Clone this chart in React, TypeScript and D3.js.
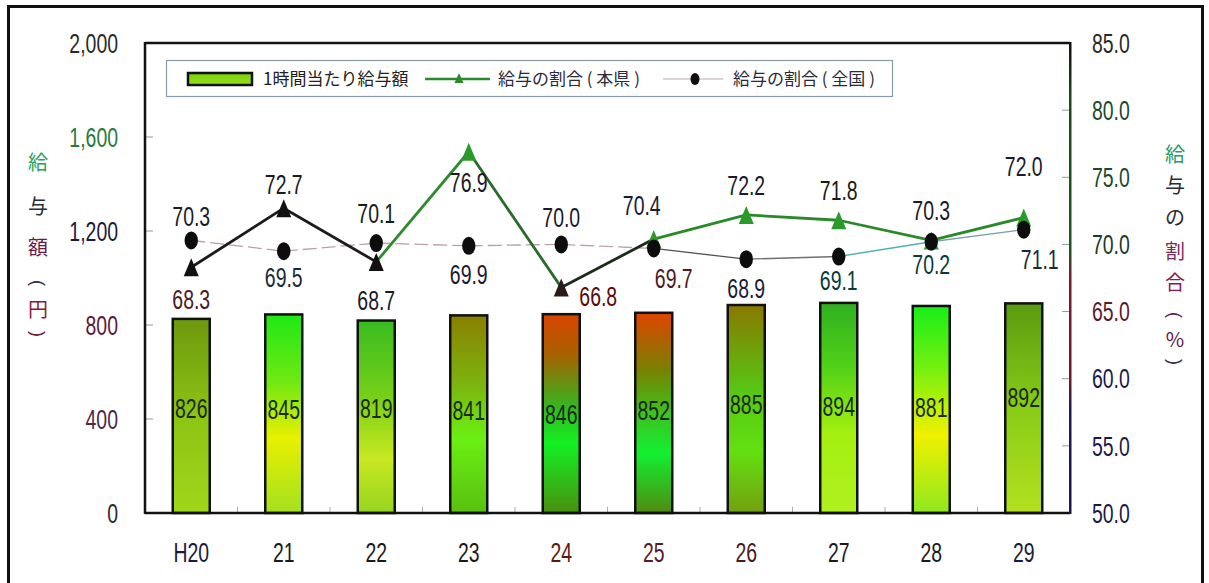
import React from "react";
import * as d3 from "d3";

// ---- data ----
const categories = ["H20", "21", "22", "23", "24", "25", "26", "27", "28", "29"];
const wages = [826, 845, 819, 841, 846, 852, 885, 894, 881, 892];
const ratioPref = [68.3, 72.7, 68.7, 76.9, 66.8, 70.4, 72.2, 71.8, 70.3, 72.0];
const ratioNation = [70.3, 69.5, 70.1, 69.9, 70.0, 69.7, 68.9, 69.1, 70.2, 71.1];
const leftTicks = [0, 400, 800, 1200, 1600, 2000];
const rightTicks = [50, 55, 60, 65, 70, 75, 80, 85];
const legendLabels = ["1時間当たり給与額", "給与の割合 ( 本県 )", "給与の割合 ( 全国 )"];
const leftTitle = ["給", "与", "額", "(", "円", ")"];
const rightTitle = ["給", "与", "の", "割", "合", "(", "%", ")"];

// ---- styles ----
const barGradients: [number, string][][] = [
  [[0, "#6c980e"], [0.5, "#8cc414"], [1, "#9ed81a"]],
  [[0, "#1ee818"], [0.35, "#74e812"], [0.62, "#e8f000"], [1, "#a4e020"]],
  [[0, "#38bc20"], [0.4, "#78d018"], [0.72, "#c8e820"], [1, "#96d420"]],
  [[0, "#8a8000"], [0.35, "#7cb410"], [0.62, "#6af012"], [1, "#58c010"]],
  [[0, "#d84400"], [0.2, "#a86000"], [0.45, "#3cb020"], [0.65, "#12f022"], [1, "#4a9010"]],
  [[0, "#e04400"], [0.28, "#7a8000"], [0.5, "#40c020"], [0.7, "#12f030"], [1, "#508a10"]],
  [[0, "#8a7800"], [0.4, "#58c414"], [0.7, "#62e010"], [1, "#74a010"]],
  [[0, "#30b020"], [0.3, "#50d018"], [0.62, "#a4f010"], [1, "#b0f020"]],
  [[0, "#18ee18"], [0.3, "#74f010"], [0.62, "#f0f000"], [1, "#90e820"]],
  [[0, "#5a9a10"], [0.5, "#88cc18"], [1, "#b4e020"]],
];
const prefSegColors = ["#1a1a1a", "#1c1c1c", "#2f8a2f", "#2a6a2a", "#1e2a1e", "#2a8a2a", "#2a8a2a", "#2a8a2a", "#2a8a2a"];
const prefMarkerColors = ["#111", "#111", "#111", "#2a9a2a", "#2a1a1a", "#2a9a2a", "#2a9a2a", "#2a9a2a", "#2a9a2a", "#2a9a2a"];
const nationSegColors = ["#b8a0a8", "#b8a0a8", "#b8a0a8", "#b8a0a8", "#c0a0a8", "#505050", "#707070", "#50b0b0", "#7aa0b0"];
const prefLabelOffsets = [[0, 32], [0, -24], [0, 38], [0, 31], [37, 9], [-12, -34], [0, -30], [0, -30], [0, -30], [0, -51]];
const nationLabelOffsets = [[0, -24], [0, 26], [0, -30], [0, 29], [0, -27], [20, 30], [0, 29], [0, 24], [0, 23], [16, 30]];
const prefLabelColors = ["#4a1a2a", "#1a1a1a", "#1a1a2a", "#1a1a2a", "#5a0a0a", "#1a1a3a", "#1a1a2a", "#1a1a1a", "#1a1a2a", "#1a1a2a"];
const nationLabelColors = ["#1a1a2a", "#1a2a3a", "#1a1a1a", "#1a1a2a", "#1a1a2a", "#4a1a2a", "#1a1a3a", "#0a3a3a", "#0a3a3a", "#1a2a3a"];
const xLabelColors = ["#1a1a3a", "#1a1a1a", "#1a1a1a", "#1a1a1a", "#5a1a1a", "#5a1a2a", "#4a1a1a", "#1a1a1a", "#1a1a1a", "#1a1a3a"];
const leftTickColors = ["#2a2a2a", "#4a2a4a", "#5a1a3a", "#1a1a3a", "#2a7a3a", "#2a2a2a"];
const rightTickColors = ["#1a1a4a", "#1a1a4a", "#1a1a4a", "#5a1a2a", "#1a3a2a", "#1a4a2a", "#1a4a2a", "#2a2a2a"];
const leftTitleColors = ["#2aa060", "#2a2a3a", "#6a1a4a", "#3a2a4a", "#8a1a3a", "#6a1a2a"];
const rightTitleColors = ["#2a9a6a", "#2a2a3a", "#2a2a2a", "#7a2a5a", "#8a1a4a", "#5a2a5a", "#5a1a4a", "#3a2a4a"];
const barLabelDy = [-8, -4, -8, -4, 1, -3, -5, -2, -2, -11];

const NUM_FONT = "'Liberation Sans', Arial, sans-serif";
const CJK_FONT = "'Noto Sans CJK JP', 'Noto Sans', sans-serif";

const W = 1209;
const H = 583;
const PL = 145, PR = 1070, PT = 43, PB = 513;

function Num({ x, cy, text, anchor = "middle", fill = "#1a1a1a", size = 27 }: any) {
  return (
    <text
      transform={`translate(${x},${cy + size * 0.36}) scale(0.72,1)`}
      textAnchor={anchor}
      fontFamily={NUM_FONT}
      fontSize={size}
      fill={fill}
    >
      {text}
    </text>
  );
}

function VChar({ x, cy, ch, fill }: any) {
  const isParen = ch === "(" || ch === ")";
  if (isParen) {
    return (
      <text
        transform={`translate(${x},${cy}) rotate(90)`}
        textAnchor="middle"
        dy="0.33em"
        fontFamily={NUM_FONT}
        fontSize={18}
        fill={fill}
      >
        {ch}
      </text>
    );
  }
  return (
    <text x={x} y={cy + 7} textAnchor="middle" fontFamily={CJK_FONT} fontSize={20} fill={fill}>
      {ch}
    </text>
  );
}

export default function App() {
  const x = d3.scaleBand<string>().domain(categories).range([PL, PR]).paddingInner(0.6).paddingOuter(0.3);
  const yL = d3.scaleLinear().domain([0, 2000]).range([PB, PT]);
  const yR = d3.scaleLinear().domain([50, 85]).range([PB, PT]);
  const cx = (i: number) => (x(categories[i]) as number) + x.bandwidth() / 2;
  const step = x.step();
  const fmt = d3.format(",");
  const fmt1 = d3.format(".1f");

  const prefPts = ratioPref.map((v, i) => [cx(i), yR(v)] as [number, number]);
  const natPts = ratioNation.map((v, i) => [cx(i), yR(v)] as [number, number]);
  const seg = d3.line();

  const tri = "M0,-9 L7.5,9 L-7.5,9 Z";

  return (
    <svg width={W} height={H} style={{ position: "absolute", left: 0, top: 0, background: "#fff" }}>
      <defs>
        {barGradients.map((stops, i) => (
          <linearGradient key={i} id={`bg${i}`} x1="0" y1="0" x2="0" y2="1">
            {stops.map(([o, c], j) => (
              <stop key={j} offset={o} stopColor={c} />
            ))}
          </linearGradient>
        ))}
        <linearGradient id="raxis" x1="0" y1="0" x2="0" y2="1">
          <stop offset="0" stopColor="#111" />
          <stop offset="0.12" stopColor="#1a4a1a" />
          <stop offset="0.44" stopColor="#1a5a1a" />
          <stop offset="0.5" stopColor="#7a1a2a" />
          <stop offset="0.72" stopColor="#6a1a2a" />
          <stop offset="0.78" stopColor="#1a1a5a" />
          <stop offset="1" stopColor="#1a1a4a" />
        </linearGradient>
        <linearGradient id="legbar" x1="0" y1="0" x2="0" y2="1">
          <stop offset="0" stopColor="#7ad010" />
          <stop offset="1" stopColor="#96e018" />
        </linearGradient>
      </defs>

      {/* outer frame */}
      <rect x={8.5} y={6.5} width={1194} height={600} fill="none" stroke="#111" strokeWidth={3} />

      {/* bars */}
      {wages.map((v, i) => (
        <rect
          key={i}
          x={x(categories[i])}
          y={yL(v)}
          width={x.bandwidth()}
          height={yL(0) - yL(v)}
          fill={`url(#bg${i})`}
          stroke="#111"
          strokeWidth={2.5}
        />
      ))}
      {wages.map((v, i) => (
        <Num key={i} x={cx(i)} cy={(yL(v) + yL(0)) / 2 + barLabelDy[i]} text={String(v)} fill="#1a2a1a" />
      ))}

      {/* inner ticks */}
      {leftTicks.slice(1, -1).map((t, i) => (
        <line key={i} x1={PL} x2={PL + 8} y1={yL(t)} y2={yL(t)} stroke="#999" strokeWidth={1} />
      ))}
      {rightTicks.slice(1, -1).map((t, i) => (
        <line key={i} x1={PR - 8} x2={PR} y1={yR(t)} y2={yR(t)} stroke="#999" strokeWidth={1} />
      ))}
      {categories.slice(1).map((c, i) => (
        <line key={i} x1={PL + (i + 1) * step} x2={PL + (i + 1) * step} y1={PB - 6} y2={PB} stroke="#aaa" strokeWidth={1} />
      ))}

      {/* axes / frame of plot */}
      <line x1={PL} x2={PR} y1={PT} y2={PT} stroke="#111" strokeWidth={2.5} />
      <line x1={PL} x2={PR} y1={PB} y2={PB} stroke="#111" strokeWidth={2.5} />
      <line x1={PL} x2={PL} y1={PT - 1} y2={PB + 1} stroke="#111" strokeWidth={2.5} />
      <rect x={PR - 1} y={PT - 1} width={2.5} height={PB - PT + 2} fill="url(#raxis)" />

      {/* national line */}
      {natPts.slice(1).map((p, i) => (
        <path
          key={i}
          d={seg([natPts[i], p]) as string}
          stroke={nationSegColors[i]}
          strokeWidth={1.3}
          strokeDasharray={i < 5 ? "14 5" : undefined}
          fill="none"
        />
      ))}
      {/* prefecture line */}
      {prefPts.slice(1).map((p, i) => (
        <path key={i} d={seg([prefPts[i], p]) as string} stroke={prefSegColors[i]} strokeWidth={2.8} fill="none" />
      ))}
      {prefPts.map((p, i) => (
        <path key={i} d={tri} transform={`translate(${p[0]},${p[1]})`} fill={prefMarkerColors[i]} />
      ))}
      {natPts.map((p, i) => (
        <ellipse key={i} cx={p[0]} cy={p[1]} rx={6.7} ry={9} fill="#0d0d0d" />
      ))}

      {/* data labels */}
      {ratioPref.map((v, i) => (
        <Num key={i} x={prefPts[i][0] + prefLabelOffsets[i][0]} cy={prefPts[i][1] + prefLabelOffsets[i][1]} text={fmt1(v)} fill={prefLabelColors[i]} />
      ))}
      {ratioNation.map((v, i) => (
        <Num key={i} x={natPts[i][0] + nationLabelOffsets[i][0]} cy={natPts[i][1] + nationLabelOffsets[i][1]} text={fmt1(v)} fill={nationLabelColors[i]} />
      ))}

      {/* tick labels */}
      {leftTicks.map((t, i) => (
        <Num key={i} x={118} cy={yL(t)} text={fmt(t)} anchor="end" fill={leftTickColors[i]} />
      ))}
      {rightTicks.map((t, i) => (
        <Num key={i} x={1092} cy={yR(t)} text={fmt1(t)} anchor="start" fill={rightTickColors[i]} />
      ))}
      {categories.map((c, i) => (
        <Num key={i} x={cx(i)} cy={552} text={c} fill={xLabelColors[i]} />
      ))}

      {/* axis titles */}
      {[163, 207, 248, 283, 310, 334].map((yy, i) => (
        <VChar key={i} x={38} cy={yy} ch={leftTitle[i]} fill={leftTitleColors[i]} />
      ))}
      {[155, 186, 218, 252, 283, 315, 340, 362].map((yy, i) => (
        <VChar key={i} x={1175} cy={yy} ch={rightTitle[i]} fill={rightTitleColors[i]} />
      ))}

      {/* legend */}
      <rect x={166.5} y={60.5} width={726} height={36} fill="#fff" stroke="#8a9aa8" strokeWidth={1.2} />
      <rect x={188} y={73} width={64} height={12} fill="url(#legbar)" stroke="#111" strokeWidth={2.5} />
      <text x={263} y={85} fontFamily={CJK_FONT} fontSize={17} fill="#222">{legendLabels[0]}</text>
      <line x1={425} x2={490} y1={79} y2={79} stroke="#2a8a2a" strokeWidth={2.5} />
      <path d="M0,-5 L4.5,5 L-4.5,5 Z" transform="translate(459,78)" fill="#2a8a2a" />
      <text x={498} y={85} fontFamily={CJK_FONT} fontSize={17} fill="#2a2a3a">{legendLabels[1]}</text>
      <line x1={663} x2={723} y1={79} y2={79} stroke="#c0a8b0" strokeWidth={1.2} />
      <ellipse cx={695} cy={79} rx={4.5} ry={6} fill="#111" />
      <text x={733} y={85} fontFamily={CJK_FONT} fontSize={17} fill="#2a2a3a">{legendLabels[2]}</text>
    </svg>
  );
}
